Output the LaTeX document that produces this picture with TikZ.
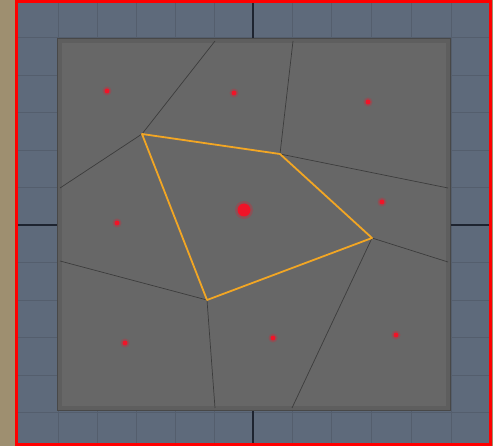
\documentclass[tikz,border=0pt]{standalone}
\definecolor{tanbg}{RGB}{158,143,112}
\definecolor{bluebg}{RGB}{94,106,123}
\definecolor{gridc}{RGB}{84,94,109}
\definecolor{axisc}{RGB}{30,36,48}
\definecolor{bandc}{RGB}{94,94,94}
\definecolor{bandline}{RGB}{72,72,72}
\definecolor{planec}{RGB}{103,103,103}
\definecolor{edgec}{RGB}{60,60,60}
\definecolor{cellc}{RGB}{242,166,36}
\definecolor{dotc}{RGB}{240,20,40}
\tikzset{
  gridline/.style={draw=gridc, line width=0.9pt},
  axisline/.style={draw=axisc, line width=1.8pt},
  vedge/.style={draw=edgec, line width=0.7pt},
  cell/.style={draw=cellc, line width=1.8pt, line join=round},
  seed/.style={circle, fill=dotc, inner sep=0pt, minimum size=5pt},
  bigseed/.style={circle, fill=dotc, inner sep=0pt, minimum size=13pt},
  halo/.style={circle, fill=dotc, fill opacity=0.25, inner sep=0pt, minimum size=9pt}
}
\begin{document}
\begin{tikzpicture}[x=1pt,y=-1pt]
\useasboundingbox (0,0) rectangle (493,446);
% backgrounds
\fill[tanbg] (0,0) rectangle (493,446);
\fill[bluebg] (16.5,1.5) rectangle (490,444.5);
% grid
\foreach \x in {58,97,136,175,214,292,331,371,411,451}
  \draw[gridline] (\x,1.5) -- (\x,444.5);
\foreach \y in {37.5,75,112.5,150,187.5,262.5,300,337.5,375,412.5}
  \draw[gridline] (16.5,\y) -- (490,\y);
\draw[axisline] (253,1.5) -- (253,444.5);
\draw[axisline] (16.5,225) -- (490,225);
% plane
\fill[bandc] (57,38) rectangle (451,411);
\draw[bandline, line width=1pt] (57.5,38.5) rectangle (450.5,410.5);
\fill[planec] (62,43) rectangle (446,406);
% red frame
\draw[red, line width=3pt] (16.5,1.5) rectangle (490,444.5);
% voronoi vertices
\coordinate (A) at (142,134);
\coordinate (B) at (280,154);
\coordinate (C) at (372,238);
\coordinate (D) at (207,300);
\coordinate (At) at (215,41);
\coordinate (Al) at (60,188);
\coordinate (Bt) at (293,41);
\coordinate (Br) at (448,188);
\coordinate (Cr) at (448,262);
\coordinate (Cb) at (292,408);
\coordinate (Dl) at (60,261);
\coordinate (Db) at (215,408);
\draw[vedge] (At) -- (A) -- (Al);
\draw[vedge] (Bt) -- (B) -- (Br);
\draw[vedge] (Cr) -- (C) -- (Cb);
\draw[vedge] (Dl) -- (D) -- (Db);
% highlighted cell
\draw[cell] (A) -- (B) -- (C) -- (D) -- cycle;
% seeds
\foreach \n/\p in {s1/{(107,91)},s2/{(234,93)},s3/{(368,102)},s4/{(117,223)},s5/{(382,202)},s6/{(125,343)},s7/{(273,338)},s8/{(396,335)}}{
  \node[halo] at \p {};
  \node[seed] (\n) at \p {};
}
\node[halo, minimum size=18pt] at (244,210) {};
\node[bigseed] (s0) at (244,210) {};
\end{tikzpicture}
\end{document}
